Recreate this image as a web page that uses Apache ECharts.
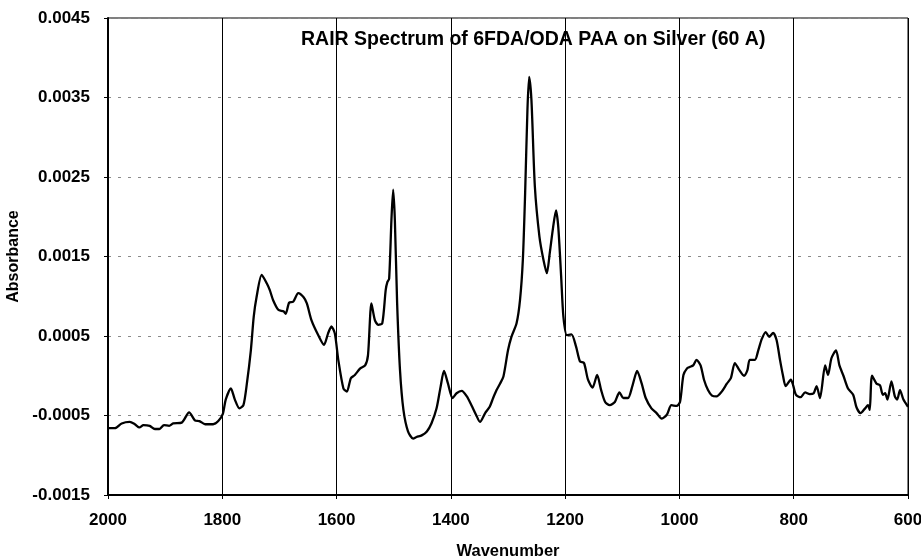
<!DOCTYPE html>
<html>
<head>
<meta charset="utf-8">
<title>RAIR Spectrum of 6FDA/ODA PAA on Silver (60 A)</title>
<script src="https://cdn.jsdelivr.net/npm/echarts@6/dist/echarts.min.js"></script>
<style>
  html, body { margin: 0; padding: 0; background: #fff; overflow: hidden; }
  #chart { width: 921px; height: 560px; }
</style>
</head>
<body>
<div id="chart"></div>
<script>
// RAIR spectrum: wavenumber (cm-1) and absorbance
const wavenumbers = [
  2000, 1988, 1976, 1962, 1953, 1945, 1938, 1927, 1918, 1910, 1902, 1893, 1886, 1871, 1858, 1848,
  1840, 1830, 1816, 1807, 1799, 1794, 1785, 1778, 1770, 1763, 1757, 1750, 1745, 1740, 1731, 1722,
  1717, 1711, 1702, 1693, 1689, 1683, 1676, 1667, 1658, 1652, 1644, 1632, 1622, 1615, 1609, 1603,
  1597, 1588, 1582, 1575, 1568, 1559, 1550, 1545, 1539, 1533, 1527, 1520, 1514, 1511, 1508, 1504,
  1501, 1498, 1494, 1489, 1483, 1475, 1466, 1460, 1451, 1442, 1434, 1425, 1418, 1412, 1405, 1397,
  1390, 1381, 1372, 1364, 1356, 1349, 1340, 1332, 1326, 1320, 1314, 1308, 1300, 1294, 1285, 1279,
  1274, 1270, 1266, 1263, 1259, 1253, 1245, 1238, 1232, 1227, 1221, 1216, 1212, 1207, 1203, 1197,
  1189, 1181, 1174, 1167, 1160, 1152, 1144, 1137, 1130, 1122, 1113, 1105, 1098, 1090, 1082, 1074,
  1066, 1059, 1049, 1040, 1031, 1022, 1014, 1005, 999, 993, 987, 982, 976, 970, 963, 957,
  950, 943, 935, 926, 917, 910, 903, 895, 887, 881, 877, 868, 862, 856, 849, 843,
  836, 830, 824, 819, 814, 805, 801, 796, 788, 780, 772, 765, 760, 754, 745, 740,
  734, 726, 720, 713, 705, 696, 690, 683, 675, 670, 667, 663, 655, 649, 644, 640,
  636, 629, 623, 619, 614, 608, 600
];
const absorbance = [
  -0.00066, -0.00066, -0.00060, -0.00058, -0.00061, -0.00065, -0.00062, -0.00063, -0.00067, -0.00067, -0.00062, -0.00063, -0.00060, -0.00059, -0.00046, -0.00056,
  -0.00057, -0.00061, -0.00061, -0.00057, -0.00048, -0.00030, -0.00016, -0.00030, -0.00041, -0.00037, -0.00010, 0.00032, 0.00074, 0.00099, 0.00127, 0.00116,
  0.00108, 0.00095, 0.00083, 0.00081, 0.00078, 0.00092, 0.00093, 0.00104, 0.00099, 0.00091, 0.00070, 0.00051, 0.00039, 0.00053, 0.00062, 0.00053,
  0.00020, -0.00016, -0.00020, -0.00003, 0.00001, 0.00009, 0.00013, 0.00026, 0.00091, 0.00070, 0.00064, 0.00066, 0.00108, 0.00118, 0.00122, 0.00196,
  0.00234, 0.00196, 0.00091, 0.00007, -0.00043, -0.00070, -0.00079, -0.00077, -0.00075, -0.00070, -0.00060, -0.00041, -0.00014, 0.00006, -0.00010, -0.00028,
  -0.00022, -0.00019, -0.00026, -0.00037, -0.00049, -0.00058, -0.00047, -0.00039, -0.00028, -0.00018, -0.00010, -0.00001, 0.00032, 0.00049, 0.00066, 0.00095,
  0.00146, 0.00230, 0.00334, 0.00376, 0.00347, 0.00238, 0.00175, 0.00146, 0.00129, 0.00154, 0.00187, 0.00208, 0.00187, 0.00125, 0.00074, 0.00051,
  0.00052, 0.00037, 0.00018, 0.00016, -0.00005, -0.00015, 0.00001, -0.00018, -0.00033, -0.00037, -0.00033, -0.00021, -0.00028, -0.00028, -0.00012, 0.00006,
  -0.00010, -0.00028, -0.00041, -0.00047, -0.00054, -0.00049, -0.00037, -0.00038, -0.00033, 0.00001, 0.00009, 0.00011, 0.00013, 0.00020, 0.00013, -0.00005,
  -0.00018, -0.00025, -0.00026, -0.00020, -0.00010, -0.00003, 0.00016, 0.00007, 0.00000, 0.00007, 0.00020, 0.00020, 0.00032, 0.00046, 0.00055, 0.00049,
  0.00054, 0.00045, 0.00020, 0.00001, -0.00013, -0.00005, -0.00012, -0.00024, -0.00027, -0.00021, -0.00023, -0.00022, -0.00013, -0.00028, 0.00013, 0.00001,
  0.00022, 0.00032, 0.00013, 0.00000, -0.00016, -0.00024, -0.00040, -0.00047, -0.00041, -0.00037, -0.00043, 0.00000, -0.00010, -0.00012, -0.00024, -0.00022,
  -0.00030, -0.00007, -0.00026, -0.00030, -0.00018, -0.00030, -0.00039
];

// Axis ranges and tick steps
const xRange = [600, 2000];
const xStep = 200;
const yRange = [-0.0015, 0.0045];
const yStep = 0.001;

const points = wavenumbers.map((w, i) => [w, absorbance[i]]);
const font = '"Liberation Sans", Arial, Helvetica, sans-serif';

const chart = echarts.init(document.getElementById('chart'), null, { renderer: 'canvas' });
chart.setOption({
  backgroundColor: '#ffffff',
  animation: false,
  title: {
    text: 'RAIR Spectrum of 6FDA/ODA PAA on Silver (60 A)',
    left: 301,
    top: 30,
    padding: 0,
    textStyle: { fontFamily: font, fontSize: 19.5, fontWeight: 'bold', color: '#000' }
  },
  grid: {
    left: 108, right: 13, top: 18, bottom: 65,
    containLabel: false,
    outerBoundsMode: 'none',
    show: true, borderColor: '#000', borderWidth: 1, backgroundColor: 'transparent'
  },
  xAxis: {
    type: 'value',
    min: xRange[0], max: xRange[1], interval: xStep,
    inverse: true,
    name: 'Wavenumber',
    nameLocation: 'middle',
    nameGap: 48,
    nameTextStyle: { fontFamily: font, fontSize: 16.5, fontWeight: 'bold', color: '#000' },
    axisLine: { show: true, onZero: false, lineStyle: { color: '#000', width: 2 } },
    axisTick: { show: true, inside: false, length: 4, lineStyle: { color: '#000', width: 1 } },
    axisLabel: {
      margin: 17, fontFamily: font, fontSize: 17, fontWeight: 'bold', color: '#000',
      formatter: v => String(v)
    },
    splitLine: { show: true, lineStyle: { color: '#000', width: 1, type: 'solid' } }
  },
  yAxis: {
    type: 'value',
    min: yRange[0], max: yRange[1], interval: yStep,
    name: 'Absorbance',
    nameLocation: 'middle',
    nameGap: 84,
    nameRotate: 90,
    nameTextStyle: { fontFamily: font, fontSize: 16, fontWeight: 'bold', color: '#000' },
    axisLine: { show: true, onZero: false, lineStyle: { color: '#000', width: 2 } },
    axisTick: { show: true, inside: false, length: 4, lineStyle: { color: '#000', width: 1 } },
    axisLabel: {
      margin: 18, fontFamily: font, fontSize: 17, fontWeight: 'bold', color: '#000',
      formatter: v => v.toFixed(4)
    },
    splitLine: { show: true, lineStyle: { color: '#8a8a8a', width: 1, type: [3, 7] } }
  },
  series: [{
    type: 'line',
    data: points,
    showSymbol: false,
    smooth: 0.25,
    lineStyle: { color: '#000', width: 2.3 },
    z: 5
  }]
});
</script>
</body>
</html>
